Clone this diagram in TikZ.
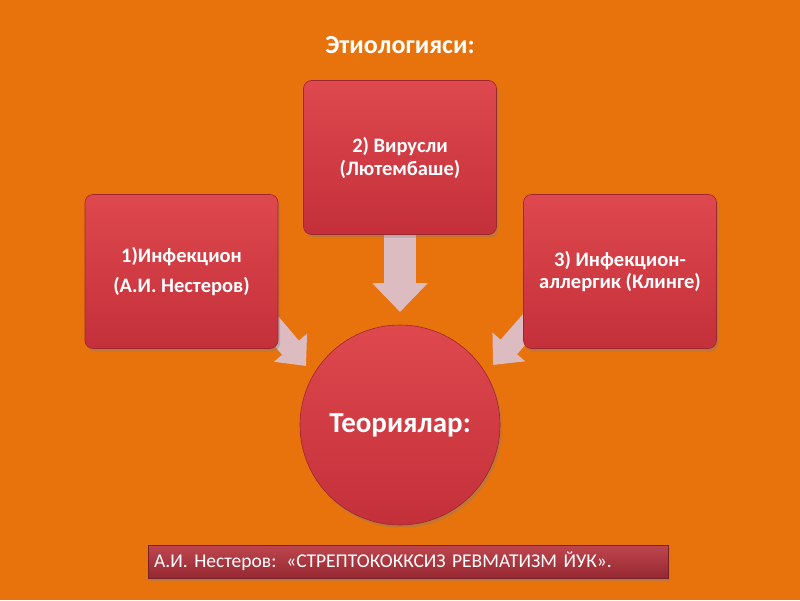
\documentclass[tikz,border=0pt]{standalone}
\usepackage{fontspec}
\setmainfont{Carlito}
\usetikzlibrary{arrows.meta}
\usetikzlibrary{shadows}
\definecolor{bgorange}{RGB}{232,114,12}
\definecolor{boxtop}{RGB}{222,72,78}
\definecolor{boxbot}{RGB}{196,48,58}
\definecolor{bartop}{RGB}{190,70,78}
\definecolor{barbot}{RGB}{150,40,50}
\definecolor{arrowfill}{RGB}{220,188,192}
\begin{document}
\begin{tikzpicture}[x=1pt,y=-1pt,
    thick,
    cause box/.style={rectangle,rounded corners=8pt,draw=boxbot!80!black,line width=0.6pt,
      top color=boxtop,bottom color=boxbot,minimum width=193pt,minimum height=154pt,
      text=white,font=\fontsize{20.5}{30}\selectfont\bfseries,align=center,
      drop shadow={shadow xshift=2pt,shadow yshift=-3pt,opacity=0.35}},
    main circle/.style={circle,draw=boxbot!80!black,line width=0.6pt,
      top color=boxtop,bottom color=boxbot,minimum size=200pt,inner sep=0pt,
      text=white,font=\fontsize{29}{32}\selectfont\bfseries,
      drop shadow={shadow xshift=2pt,shadow yshift=-3pt,opacity=0.35}},
    block arrow/.style={color=arrowfill,-{Triangle[length=29pt,width=54pt]}}]
   % background
   \fill[bgorange] (0,0) rectangle (800,600);
   \useasboundingbox (0,0) rectangle (800,600);
   \node[text=white,font=\fontsize{26}{28}\selectfont\bfseries] (title) at (400,45) {Этиологияси:};
   % arrows first, so the boxes cover their tails
   \coordinate (lstart) at (250,300);
   \coordinate (ltip) at (306,366);
   \coordinate (rstart) at (550,300);
   \coordinate (rtip) at (493,365);
   \coordinate (mtip) at (400,312);
   \draw[block arrow,line width=22pt,-{Triangle[length=24pt,width=42pt]}] (lstart) -- (ltip);
   \draw[block arrow,line width=22pt,-{Triangle[length=24pt,width=42pt]}] (rstart) -- (rtip);
   \draw[block arrow,line width=32pt] (400,225) -- (mtip);
   % boxes
   \node[cause box] (infect) at (181.5,271.5) {1)Инфекцион\\(А.И. Нестеров)};
   \node[cause box,font=\fontsize{20.5}{23}\selectfont\bfseries] (virus) at (400,157.5) {2) Вирусли\\(Лютембаше)};
   \node[cause box,font=\fontsize{20.5}{22}\selectfont\bfseries] (allerg) at (620,271.5) {3) Инфекцион-\\аллергик (Клинге)};
   \node[main circle] (theory) at (400,425) {Теориялар:};
   % bottom bar
   \node[rectangle,draw=barbot!80!black,line width=0.6pt,top color=bartop,bottom color=barbot,
     minimum width=520pt,minimum height=33pt,text=white,font=\fontsize{19.5}{22}\selectfont,
     text width=508pt,align=left,
     drop shadow={shadow xshift=2pt,shadow yshift=-3pt,opacity=0.35}] (note) at (408,561.5)
     {А.И. Нестеров: «СТРЕПТОКОККСИЗ РЕВМАТИЗМ ЙУК».};
\end{tikzpicture}
\end{document}
